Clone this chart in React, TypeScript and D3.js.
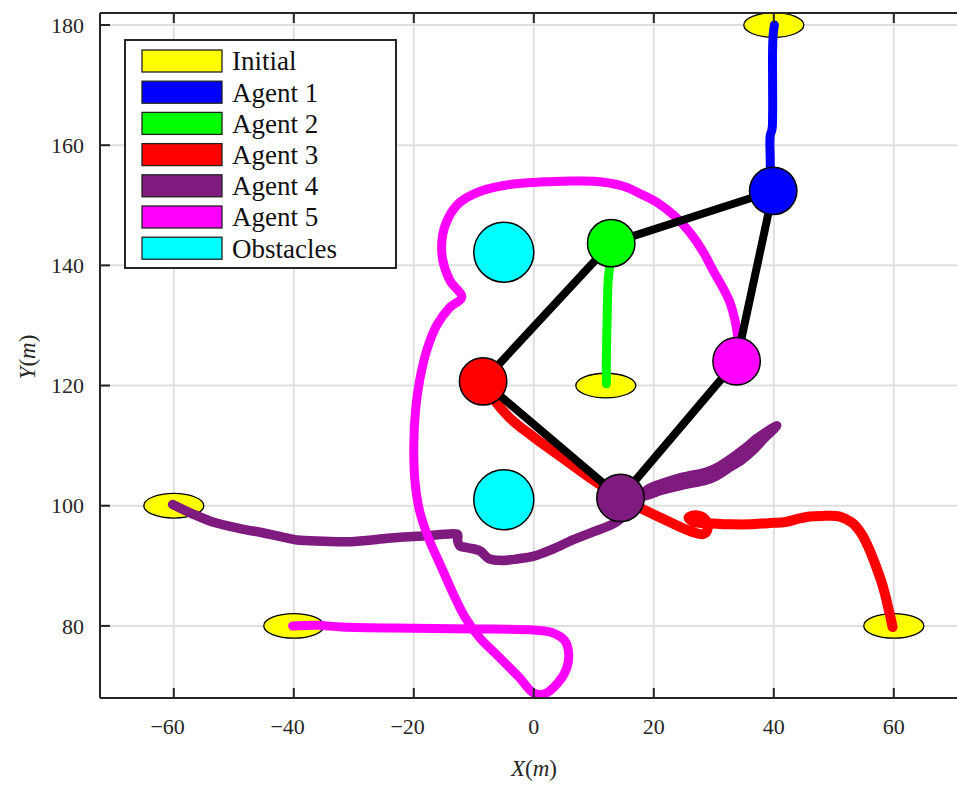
import React from "react";
import * as d3 from "d3";

const W = 957;
const H = 786;

const xTicks = [-60, -40, -20, 0, 20, 40, 60];
const yTicks = [80, 100, 120, 140, 160, 180];

const legendLabels = ["Initial", "Agent 1", "Agent 2", "Agent 3", "Agent 4", "Agent 5", "Obstacles"];
const legendColors = ["#ffff00", "#0000ff", "#00ff00", "#ff0000", "#7f1a7f", "#ff00ff", "#00ffff"];

const agentColors = ["#0000ff", "#00ff00", "#ff0000", "#7f1a7f", "#ff00ff"];

// initial positions
const initialX = [40, 12, 60, -60, -40];
const initialY = [180, 120, 80, 100, 80];

// current positions
const currentX = [39.9, 12.9, -8.45, 14.45, 33.8];
const currentY = [152.4, 143.7, 120.7, 101.3, 124.05];

// formation links (indices into current positions)
const links: [number, number][] = [
  [0, 1],
  [1, 2],
  [2, 3],
  [3, 4],
  [4, 0],
];

const obstaclesX = [-5, -5];
const obstaclesY = [142.2, 101];

const traj1: [number, number][] = [
  [40.1, 180], [39.9, 178.5], [39.8, 176], [39.8, 170], [39.8, 165], [39.7, 162.6],
  [39.4, 161.6], [39.4, 158], [39.5, 154.5], [39.9, 152.4],
];

const traj2: [number, number][] = [
  [12.1, 120.3], [12.1, 125], [12.2, 130], [12.3, 135], [12.4, 137.5], [12.7, 140.3], [12.9, 143.7],
];

const traj3: [number, number][] = [
  [59.8, 79.8], [59.2, 82.5], [58.2, 86.5], [57, 90], [55.8, 93], [54.5, 95.5], [53, 97.2],
  [51, 98.2], [48, 98.3], [46, 98.2], [44, 97.8], [42, 97.3], [39, 97.1], [36, 96.9],
  [33, 96.9], [30.5, 97], [28.5, 97.1], [26.5, 97.4], [25.8, 98], [27, 98.4], [28.5, 97.8],
  [29, 96.3], [28.3, 95.3], [26, 95.8], [22, 97.6], [18, 99.5], [14.45, 101.3], [10, 104.2],
  [5, 107.8], [0, 111.4], [-4, 114.6], [-6.5, 117.5], [-8.45, 120.7],
];

const traj4: [number, number][] = [
  [-60.2, 100.2], [-57, 98.7], [-53.5, 97.3], [-49, 96.2], [-45.2, 95.5], [-42, 94.8],
  [-39.5, 94.3], [-35, 94.1], [-31.2, 94], [-27, 94.3], [-22.8, 94.7], [-18, 95],
  [-14, 95.3], [-12.7, 95.2], [-12.7, 94.2], [-12.3, 93.3], [-11, 93], [-9, 92.5],
  [-7.5, 91.2], [-5.5, 90.9], [-3, 91.1], [0, 91.6], [3, 92.7], [6.5, 94.3], [10, 95.7],
  [13.8, 97.3], [17, 100.6], [18.8, 102.6], [22, 103.9], [25, 104.8], [28.8, 105.6],
  [31, 106.6], [33, 107.9], [35, 109.4], [37.5, 111.4], [40.5, 113.3], [38.3, 111.1],
  [36.3, 109.0], [34.5, 107.5], [33, 106.6], [30.5, 105.0], [28.8, 104.3], [25, 103.5],
  [21, 102.5], [18.8, 101.7], [16, 101.2], [14.45, 101.3],
];

const traj5: [number, number][] = [
  [-40.2, 80], [-36, 80.1], [-32, 79.8], [-20, 79.6], [-10, 79.5], [0, 79.3], [3, 78.9],
  [5.2, 77.5], [5.8, 75.5], [5.5, 73], [4, 70.5], [1.8, 68.7], [0, 68.8], [-2.5, 71.5],
  [-6, 75], [-9, 78], [-11.5, 81.5], [-13.5, 85.5], [-15.5, 90], [-17.5, 94.5], [-19, 99],
  [-19.8, 104], [-20, 110], [-19.7, 116], [-19, 121], [-17.8, 126], [-16.2, 130],
  [-14, 133], [-12, 134.7], [-14, 137.5], [-15.2, 141], [-15.2, 145], [-14.2, 148],
  [-12.3, 150.5], [-9, 152.3], [-5, 153.3], [0, 153.8], [5, 154], [10, 154], [14.8, 153.2],
  [18, 151.8], [20.5, 150.5], [23.5, 148.2], [26, 145.5], [28.2, 142.3], [29.8, 139.3],
  [31.5, 136.3], [32.7, 133.8], [33.6, 130.5], [34, 127.7], [33.8, 124.05],
];

const trajectories = [traj1, traj2, traj3, traj4, traj5];
const trajWidths = [9, 9, 10, 9.5, 9];

export default function App() {
  const pxPerUnit = 6.0;
  const xMin = -72.3;
  const xMax = 71.5;
  const yMin = 68;
  const yMax = 182;
  const left = 100;
  const top = 13;
  const bottom = 698;
  const x = d3.scaleLinear().domain([xMin, xMax]).range([left, left + (xMax - xMin) * pxPerUnit]);
  const y = d3.scaleLinear().domain([yMin, yMax]).range([bottom, top]);
  const right = x(xMax);
  const line = d3
    .line<[number, number]>()
    .x((d) => x(d[0]))
    .y((d) => y(d[1]))
    .curve(d3.curveCatmullRom.alpha(0.5));

  const axisColor = "#262626";
  const gridColor = "#dfdfdf";
  const font = "'Liberation Serif', 'Times New Roman', serif";
  const tickFs = 22;
  const legFs = 27;

  const rX = (u: number) => x(u) - x(0);
  const rY = (u: number) => y(0) - y(u);

  const legX = 125;
  const legY = 40;
  const legW = 271;
  const legH = 228;
  const rowH = 31.2;

  return (
    <svg
      width={W}
      height={H}
      style={{ position: "absolute", left: 0, top: 0, background: "#fff" }}
      xmlns="http://www.w3.org/2000/svg"
    >
      <rect x={0} y={0} width={W} height={H} fill="#fff" />
      <defs>
        <clipPath id="plotClip">
          <rect x={left} y={top} width={right - left} height={bottom - top} />
        </clipPath>
      </defs>
      {/* grid */}
      <g>
        {xTicks.map((t) => (
          <line key={"gx" + t} x1={x(t)} x2={x(t)} y1={top} y2={bottom} stroke={gridColor} strokeWidth={2} />
        ))}
        {yTicks.map((t) => (
          <line key={"gy" + t} x1={left} x2={right} y1={y(t)} y2={y(t)} stroke={gridColor} strokeWidth={2} />
        ))}
      </g>
      <g clipPath="url(#plotClip)">
        {/* obstacles */}
        {obstaclesX.map((ox, i) => (
          <circle key={"ob" + i} cx={x(ox)} cy={y(obstaclesY[i])} r={rX(5)} fill="#00ffff" stroke="#000" strokeWidth={1.5} />
        ))}
        {/* initial ellipses */}
        {initialX.map((ix, i) => (
          <ellipse
            key={"in" + i}
            cx={x(ix)}
            cy={y(initialY[i])}
            rx={rX(5)}
            ry={rY(2.05)}
            fill="#ffff00"
            stroke="#000"
            strokeWidth={1.3}
          />
        ))}
        {/* trajectories */}
        {trajectories.map((tr, i) => (
          <path
            key={"tr" + i}
            d={line(tr) || ""}
            fill="none"
            stroke={agentColors[i]}
            strokeWidth={trajWidths[i]}
            strokeLinecap="round"
            strokeLinejoin="round"
          />
        ))}
        {/* formation links */}
        {links.map(([a, b], i) => (
          <line
            key={"ln" + i}
            x1={x(currentX[a])}
            y1={y(currentY[a])}
            x2={x(currentX[b])}
            y2={y(currentY[b])}
            stroke="#000"
            strokeWidth={8}
          />
        ))}
        {/* agents */}
        {currentX.map((cx, i) => (
          <circle key={"ag" + i} cx={x(cx)} cy={y(currentY[i])} r={rX(3.95)} fill={agentColors[i]} stroke="#000" strokeWidth={1.5} />
        ))}
      </g>
      {/* axes */}
      <g>
        <line x1={left} x2={right} y1={top} y2={top} stroke={axisColor} strokeWidth={2} />
        <line x1={left} x2={right} y1={bottom} y2={bottom} stroke={axisColor} strokeWidth={2} />
        <line x1={left} x2={left} y1={top} y2={bottom} stroke={axisColor} strokeWidth={2} />
        <line x1={right} x2={right} y1={top} y2={bottom} stroke={axisColor} strokeWidth={2} />
        {xTicks.map((t) => (
          <g key={"xt" + t}>
            <line x1={x(t)} x2={x(t)} y1={bottom} y2={bottom - 10} stroke={axisColor} strokeWidth={2} />
            <line x1={x(t)} x2={x(t)} y1={top} y2={top + 10} stroke={axisColor} strokeWidth={2} />
            <text
              x={x(t) + String(Math.abs(t)).length * 0.25 * tickFs}
              y={734}
              textAnchor="end"
              fontFamily={font}
              fontSize={tickFs}
              fill="#262626"
            >
              {t < 0 ? "\u2212" + Math.abs(t) : String(t)}
            </text>
          </g>
        ))}
        {yTicks.map((t) => (
          <g key={"yt" + t}>
            <line x1={left} x2={left + 10} y1={y(t)} y2={y(t)} stroke={axisColor} strokeWidth={2} />
            <text
              x={84}
              y={y(t)}
              dy="0.35em"
              textAnchor="end"
              fontFamily={font}
              fontSize={tickFs}
              fill="#262626"
            >
              {String(t)}
            </text>
          </g>
        ))}
        <text x={534} y={776} textAnchor="middle" fontFamily={font} fontSize={23} fill="#262626">
          <tspan fontStyle="italic">X</tspan>
          <tspan>(</tspan>
          <tspan fontStyle="italic">m</tspan>
          <tspan>)</tspan>
        </text>
        <text
          transform={`translate(35, 357) rotate(-90)`}
          textAnchor="middle"
          fontFamily={font}
          fontSize={23}
          fill="#262626"
        >
          <tspan fontStyle="italic">Y</tspan>
          <tspan>(</tspan>
          <tspan fontStyle="italic">m</tspan>
          <tspan>)</tspan>
        </text>
      </g>
      {/* legend */}
      <g>
        <rect x={legX} y={legY} width={legW} height={legH} fill="#fff" stroke={axisColor} strokeWidth={2} />
        {legendLabels.map((lab, i) => {
          const cy = legY + 21 + i * rowH;
          return (
            <g key={"lg" + i}>
              <rect x={142} y={cy - 11} width={80} height={22} fill={legendColors[i]} stroke="#222" strokeWidth={1.3} />
              <text x={232} y={cy} dy="0.35em" fontFamily={font} fontSize={legFs} fill="#111">
                {lab}
              </text>
            </g>
          );
        })}
      </g>
    </svg>
  );
}
